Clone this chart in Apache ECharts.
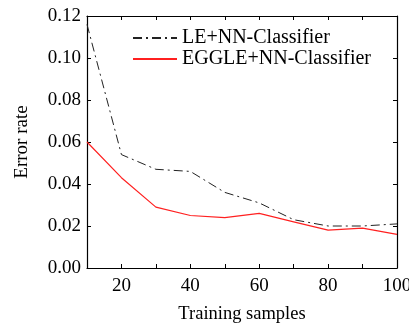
<!DOCTYPE html>
<html>
<head>
<meta charset="utf-8">
<script src="https://cdn.jsdelivr.net/npm/echarts@6/dist/echarts.min.js"></script>
<style>html,body{margin:0;padding:0;background:#fff;}#c{width:409px;height:325px;}</style>
</head>
<body>
<div id="c"></div>
<script>
var samples = [10, 20, 30, 40, 50, 60, 70, 80, 90, 100];
var leNN = [0.116, 0.054, 0.047, 0.046, 0.036, 0.031, 0.023, 0.020, 0.020, 0.021];
var eggleNN = [0.060, 0.043, 0.029, 0.025, 0.024, 0.026, 0.022, 0.018, 0.019, 0.016];
var xTickLabels = [20, 40, 60, 80, 100];
var yTickLabels = ['0.00', '0.02', '0.04', '0.06', '0.08', '0.10', '0.12'];

var font = 'Liberation Serif, Times New Roman, serif';
function pairs(xs, ys) { return xs.map(function (x, i) { return [x, ys[i]]; }); }

var chart = echarts.init(document.getElementById('c'));
var axisLine = { show: true, onZero: false, lineStyle: { color: '#000', width: 1.2 } };
chart.setOption({
  backgroundColor: '#fff',
  animation: false,
  grid: { left: 87, top: 16, right: 12, bottom: 57, containLabel: false, outerBoundsMode: 'none' },
  legend: {
    orient: 'vertical', left: 132, top: 28, padding: 0,
    itemWidth: 44, itemHeight: 10, itemGap: 1,
    itemStyle: { color: 'rgba(0,0,0,0)', borderWidth: 0, opacity: 0 },
    textStyle: { fontFamily: font, fontSize: 20, color: '#000', lineHeight: 19 },
    data: ['LE+NN-Classifier', 'EGGLE+NN-Classifier']
  },
  xAxis: [{
    type: 'value', min: 10, max: 100, interval: 10, position: 'bottom',
    axisLine: axisLine,
    axisTick: { show: true, inside: true, length: 4, lineStyle: { color: '#000' } },
    splitLine: { show: false },
    axisLabel: {
      margin: 9, fontFamily: font, fontSize: 19, color: '#000',
      formatter: function (v) { return xTickLabels.indexOf(v) >= 0 ? String(v) : ''; }
    },
    name: 'Training samples', nameLocation: 'middle', nameGap: 37,
    nameTextStyle: { fontFamily: font, fontSize: 18.5, color: '#000' }
  }, {
    type: 'value', min: 10, max: 100, interval: 10, position: 'top',
    axisLine: axisLine,
    axisTick: { show: true, inside: true, length: 4, lineStyle: { color: '#000' } },
    splitLine: { show: false }, axisLabel: { show: false }
  }],
  yAxis: [{
    type: 'value', min: 0, max: 0.12, interval: 0.02, position: 'left',
    axisLine: axisLine,
    axisTick: { show: true, inside: true, length: 4, lineStyle: { color: '#000' } },
    splitLine: { show: false },
    axisLabel: {
      margin: 6, fontFamily: font, fontSize: 19, color: '#000',
      formatter: function (v) { return yTickLabels[Math.round(v / 0.02)]; }
    },
    name: 'Error rate', nameLocation: 'middle', nameGap: 55,
    nameTextStyle: { fontFamily: font, fontSize: 19, color: '#000' }
  }, {
    type: 'value', min: 0, max: 0.12, interval: 0.02, position: 'right',
    axisLine: axisLine,
    axisTick: { show: true, inside: true, length: 4, lineStyle: { color: '#000' } },
    splitLine: { show: false }, axisLabel: { show: false }
  }],
  series: [{
    name: 'LE+NN-Classifier', type: 'line', symbol: 'none',
    data: pairs(samples, leNN),
    lineStyle: { color: '#222', width: 1, type: [9, 4, 2, 4] },
    itemStyle: { color: '#222' }
  }, {
    name: 'EGGLE+NN-Classifier', type: 'line', symbol: 'none',
    data: pairs(samples, eggleNN),
    lineStyle: { color: '#ff2020', width: 1.2 },
    itemStyle: { color: '#ff2020' }
  }]
});
</script>
</body>
</html>
